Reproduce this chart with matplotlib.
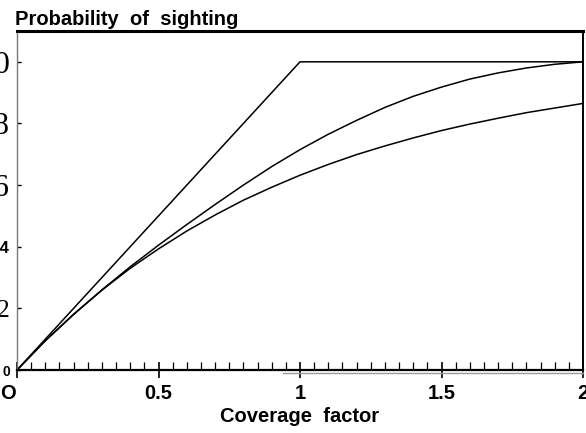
import numpy as np
import matplotlib.pyplot as plt
import matplotlib.transforms as mtransforms

# ───── Data ────────────────────────────────────────────────
x_pts = [0.0, 0.1, 0.2, 0.3, 0.4, 0.5, 0.6, 0.7, 0.8, 0.9, 1.0,
         1.1, 1.2, 1.3, 1.4, 1.5, 1.6, 1.7, 1.8, 1.9, 2.0]

# definite-range curve (rises straight to 1 then flat)
x_linear = [0.0, 1.0, 2.0]
p_linear = [0.0, 1.0, 1.0]

# middle curve
p_middle = [0.0, 0.095, 0.180, 0.260, 0.335, 0.405, 0.472, 0.537, 0.600, 0.660, 0.715,
            0.765, 0.810, 0.852, 0.888, 0.918, 0.944, 0.964, 0.980, 0.992, 1.0]

# lower curve (random search)
p_lower = [0.0, 0.095, 0.181, 0.259, 0.330, 0.393, 0.451, 0.503, 0.551, 0.593, 0.632,
           0.667, 0.699, 0.727, 0.753, 0.777, 0.798, 0.817, 0.835, 0.850, 0.865]

x_ticks = [0, 0.5, 1, 1.5, 2]
x_ticklabels = ["O", "0.5", "1", "1.5", "2"]
y_ticks = [0, 0.2, 0.4, 0.6, 0.8, 1.0]
y_ticklabels = ["0", ".2", ".4", ".6", ".8", "1.0"]

# ───── Figure ──────────────────────────────────────────────
fig = plt.figure(figsize=(5.86, 4.33), dpi=100)
ax = fig.add_axes([17/586, 1 - 370/433, 566/586, 339/433])

for p in (p_middle, p_lower):
    ax.plot(x_pts, p, color="black", lw=1.1, solid_joinstyle="round")
ax.plot(x_linear, p_linear, color="black", lw=1.1)

ax.set_xlim(0, 2)
ax.set_ylim(0, 1.1)

# spines
ax.spines["left"].set_color("#777777")
ax.spines["left"].set_linewidth(1.0)
ax.spines["right"].set_linewidth(1.4)
ax.spines["top"].set_linewidth(2.2)
ax.spines["bottom"].set_linewidth(1.6)
# faint second line under the axis (scan artefact)
ax.axhline(-0.009, xmin=0.47, xmax=1.0, color="#999999", lw=1.0, clip_on=False)

# x ticks
ax.set_xticks(x_ticks)
ax.set_xticklabels(x_ticklabels, fontsize=14.5, fontweight="bold",
                   family="Liberation Sans")
ax.set_xticks(np.arange(0, 2.001, 0.05), minor=True)
ax.tick_params(axis="x", which="major", direction="inout", length=12,
               width=1.2, pad=4)
ax.tick_params(axis="x", which="minor", direction="in", length=6, width=0.9)
lab0 = ax.get_xticklabels()[0]
lab0.set_transform(lab0.get_transform() +
                   mtransforms.ScaledTranslation(-9/100, 0, fig.dpi_scale_trans))

# y ticks (labels are cut off at the left edge like the scan)
ax.set_yticks(y_ticks)
ax.set_yticklabels(y_ticklabels)
ax.tick_params(axis="y", direction="in", length=3, width=1.0, pad=5)
ylabs = ax.get_yticklabels()
styles = [("Liberation Sans", "bold", 10),
          ("Liberation Serif", "normal", 18),
          ("Liberation Sans", "bold", 12),
          ("Liberation Serif", "normal", 23),
          ("Liberation Serif", "normal", 23),
          ("Liberation Serif", "normal", 23)]
for lab, (fam, wt, sz) in zip(ylabs, styles):
    lab.set_family(fam)
    lab.set_fontweight(wt)
    lab.set_fontsize(sz)

ax.set_xlabel("Coverage  factor", fontsize=14.5, fontweight="bold",
              family="Liberation Sans", labelpad=3)
fig.text(15/586, 1 - 25/433, "Probability  of  sighting", fontsize=14.5,
         fontweight="bold", family="Liberation Sans", ha="left", va="baseline")

fig.savefig("out.png", dpi=100)
